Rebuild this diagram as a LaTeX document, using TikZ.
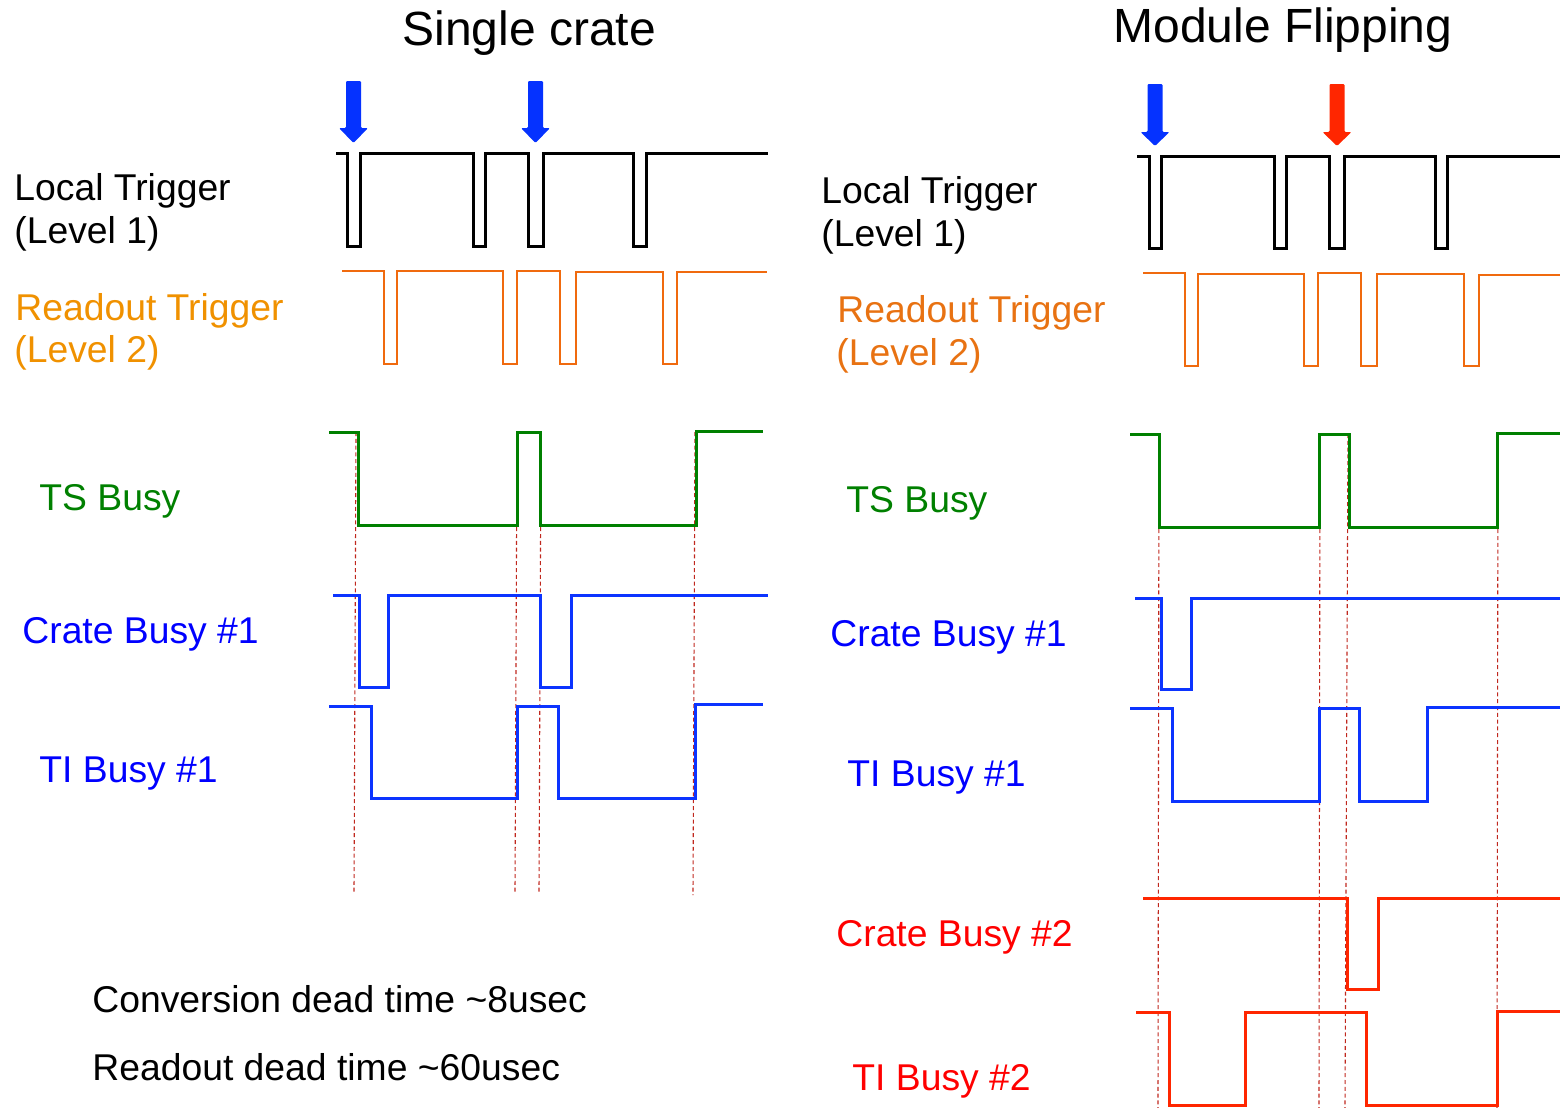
\documentclass[tikz,border=0pt]{standalone}
\usepackage{fontspec}
\setmainfont{Liberation Sans}
\begin{document}
\begin{tikzpicture}[x=0.5pt,y=-0.5pt,
  lbl/.style={anchor=base west,inner sep=0pt,font=\fontsize{18.65}{21}\selectfont},
  ttl/.style={anchor=base west,inner sep=0pt,font=\fontsize{24}{28}\selectfont},
  wave/.style={line width=1.5pt,line join=miter},
  mark line/.style={draw=dashred,line width=0.55pt,dash pattern=on 2pt off 1.4pt},
  trigarrow/.style={line width=0.3pt,rounded corners=0.6pt}]
\definecolor{sigblue}{RGB}{12,52,255}
\definecolor{sigorange}{RGB}{240,106,14}
\definecolor{siggreen}{RGB}{0,128,0}
\definecolor{sigred}{RGB}{255,38,0}
\definecolor{dashred}{RGB}{192,40,30}
\definecolor{lblorangeA}{RGB}{240,145,0}
\definecolor{lblorangeB}{RGB}{232,114,18}
\definecolor{arrowblue}{RGB}{5,50,255}

\useasboundingbox (0,0) rectangle (1560,1108);

% arrow pointing down: #1 centre x, #2 top, #3 head start, #4 tip, #5 colour
\newcommand{\trigdown}[5]{%
  \fill[#5,trigarrow] (#1-7.5,#2) -- (#1+7.5,#2) -- (#1+7.5,#3) -- (#1+14.5,#3)
    -- (#1,#4) -- (#1-14.5,#3) -- (#1-7.5,#3) -- cycle;}

% ---------- titles ----------
\node[ttl] (t1) at (402,46) {Single crate};
\node[ttl] (t2) at (1113,42) {Module Flipping};

% ---------- left: single crate ----------
\node[lbl] (l1a) at (14,200) {Local Trigger};
\node[lbl] (l1b) at (14,243) {(Level 1)};
\node[lbl,text=lblorangeA] (l2a) at (15,320) {Readout Trigger};
\node[lbl,text=lblorangeA] (l2b) at (14,362) {(Level 2)};
\node[lbl,text=siggreen] (l3) at (39,510) {TS Busy};
\node[lbl,text=blue] (l4) at (22,643) {Crate Busy \#1};
\node[lbl,text=blue] (l5) at (39,782) {TI Busy \#1};
\node[lbl] (n1) at (92,1012) {Conversion dead time \textasciitilde8usec};
\node[lbl] (n2) at (92,1080) {Readout dead time \textasciitilde60usec};

\trigdown{353.5}{81}{128}{143}{arrowblue}
\trigdown{535.5}{81}{128}{143}{arrowblue}

\foreach \x/\y/\xb/\yb in {356/432/354/893, 517/432/515/893, 541/432/539/893, 695/432/693/895}
  \draw[mark line] (\x,\y) -- (\xb,\yb);

\draw[wave,black] (336,153)--(347,153)--(347,246)--(360,246)--(360,153)--(473,153)--(473,246)
  --(485,246)--(485,153)--(528,153)--(528,246)--(543,246)--(543,153)--(633,153)--(633,246)
  --(646,246)--(646,153)--(768,153);
\draw[wave,sigorange,line width=1.3pt] (342,271)--(384,271)--(384,364)--(397,364)--(397,271)--(503,271)
  --(503,364)--(517,364)--(517,271)--(560,271)--(560,364)--(576,364)--(576,272)--(663,272)
  --(663,364)--(677,364)--(677,272)--(767,272);
\draw[wave,siggreen] (329,432)--(358,432)--(358,525)--(517,525)--(517,432)--(540,432)--(540,525)
  --(696,525)--(696,431)--(763,431);
\draw[wave,sigblue] (333,595)--(359,595)--(359,687)--(388,687)--(388,595)--(540,595)--(540,687)
  --(571,687)--(571,595)--(768,595);
\draw[wave,sigblue] (329,706)--(371,706)--(371,798)--(517,798)--(517,706)--(558,706)--(558,798)
  --(695,798)--(695,704)--(763,704);

% ---------- right: module flipping ----------
\node[lbl] (r1a) at (821,203) {Local Trigger};
\node[lbl] (r1b) at (821,246) {(Level 1)};
\node[lbl,text=lblorangeB] (r2a) at (837,322) {Readout Trigger};
\node[lbl,text=lblorangeB] (r2b) at (836,365) {(Level 2)};
\node[lbl,text=siggreen] (r3) at (846,512) {TS Busy};
\node[lbl,text=blue] (r4) at (830,646) {Crate Busy \#1};
\node[lbl,text=blue] (r5) at (847,786) {TI Busy \#1};
\node[lbl,text=red] (r6) at (836,946) {Crate Busy \#2};
\node[lbl,text=red] (r7) at (852,1090) {TI Busy \#2};

\trigdown{1155}{84}{132}{146}{arrowblue}
\trigdown{1337}{84}{132}{146}{sigred}

\foreach \x/\y/\xb/\yb in {1159/434/1158/1108, 1320/434/1319/1108, 1348/434/1345/1108, 1498/434/1497/1108}
  \draw[mark line] (\x,\y) -- (\xb,\yb);

\draw[wave,black] (1137,156)--(1149,156)--(1149,248)--(1161,248)--(1161,156)--(1274,156)--(1274,248)
  --(1286,248)--(1286,156)--(1329,156)--(1329,248)--(1344,248)--(1344,156)--(1435,156)--(1435,248)
  --(1447,248)--(1447,156)--(1560,156);
\draw[wave,sigorange,line width=1.3pt] (1143,273)--(1185,273)--(1185,366)--(1198,366)--(1198,274)--(1304,274)
  --(1304,366)--(1318,366)--(1318,273)--(1361,273)--(1361,366)--(1377,366)--(1377,274)--(1464,274)
  --(1464,366)--(1479,366)--(1479,275)--(1560,275);
\draw[wave,siggreen] (1130,434)--(1159,434)--(1159,527)--(1319,527)--(1319,434)--(1349,434)--(1349,527)
  --(1497,527)--(1497,433)--(1560,433);
\draw[wave,sigblue] (1135,598)--(1161,598)--(1161,689)--(1191,689)--(1191,598)--(1560,598);
\draw[wave,sigblue] (1130,708)--(1172,708)--(1172,801)--(1319,801)--(1319,708)--(1359,708)--(1359,801)
  --(1427,801)--(1427,707)--(1560,707);
\draw[wave,sigred] (1143,898)--(1347,898)--(1347,989)--(1378,989)--(1378,898)--(1560,898);
\draw[wave,sigred] (1136,1012)--(1169,1012)--(1169,1105)--(1245,1105)--(1245,1012)--(1366,1012)
  --(1366,1105)--(1497,1105)--(1497,1011)--(1560,1011);
\end{tikzpicture}
\end{document}
